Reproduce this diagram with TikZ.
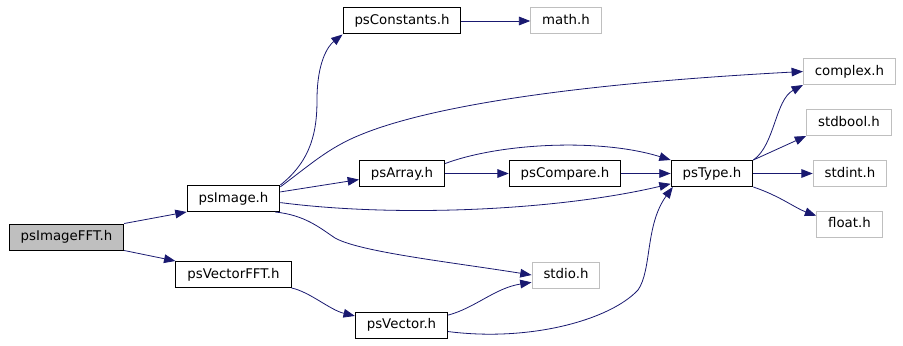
\documentclass[tikz,border=0pt]{standalone}
\usepackage{fontspec}
\setmainfont{DejaVu Sans}
\usepackage{xcolor}
\usetikzlibrary{arrows.meta}
\definecolor{edgeblue}{HTML}{191970}
\definecolor{sysgray}{HTML}{BFBFBF}

\begin{document}
\begin{tikzpicture}[
  x=0.75pt, y=-0.75pt,
  file/.style={draw, line width=0.75pt, font=\fontsize{10}{12}\selectfont, minimum height=19.5pt, inner xsep=8.6pt, inner ysep=0pt, text height=7.5pt, text depth=2pt},
  root/.style={file, fill=sysgray},
  sys/.style={file, draw=sysgray},
  dep/.style={-{Triangle[length=8.5pt, width=6.5pt]}, draw=edgeblue, line width=0.6pt}
]
\useasboundingbox (0,0) rectangle (903,346);
\node[root] (fft) at (66.5,237) {psImageFFT.h};
\node[file] (img) at (233.5,198.5) {psImage.h};
\node[file] (vfft) at (233.5,274.5) {psVectorFFT.h};
\node[file] (const) at (402,21) {psConstants.h};
\node[sys] (math) at (566,21) {math.h};
\node[file] (arr) at (402,173.5) {psArray.h};
\node[file] (cmp) at (565,173.5) {psCompare.h};
\node[file] (typ) at (712,173.5) {psType.h};
\node[sys] (cplx) at (849.5,71.5) {complex.h};
\node[sys] (bool) at (849,122.5) {stdbool.h};
\node[sys] (int) at (850,173.5) {stdint.h};
\node[sys] (flt) at (849.5,224) {float.h};
\node[sys] (stdio) at (566,275) {stdio.h};
\node[file] (vec) at (401.5,325) {psVector.h};
\draw[dep] (fft.north east) -- (img.196);
\draw[dep] (fft.south east) -- (vfft.north west);
\draw[dep] (img.north east) .. controls (312,160) and (317,130) .. (317,100)
  .. controls (317,62) and (328,46) .. (const.south west);
\draw[dep] (const.east) -- (math.west);
\draw[dep] (img.14) .. controls (310,165) and (328,148) .. (360,135)
  .. controls (420,110) and (550,85) .. (cplx.west);
\draw[dep] (img.8) -- (arr.188);
\draw[dep] (img.-5) .. controls (400,218) and (560,210) .. (typ.194);
\draw[dep] (img.-18) .. controls (305,215) and (320,228) .. (335,238)
  .. controls (360,252) and (450,262) .. (stdio.west);
\draw[dep] (vfft.south east) .. controls (310,292) and (330,310) .. (vec.169);
\draw[dep] (vec.12) .. controls (475,308) and (495,288) .. (stdio.192);
\draw[dep] (vec.-8) .. controls (530,342) and (610,320) .. (638,290)
  .. controls (652,270) and (645,225) .. (typ.199);
\draw[dep] (arr.13) .. controls (500,143) and (600,138) .. (typ.north west);
\draw[dep] (arr.east) -- (cmp.west);
\draw[dep] (cmp.east) -- (typ.west);
\draw[dep] (typ.north east) .. controls (775,145) and (775,100) .. (cplx.south west);
\draw[dep] (typ.north east) -- (bool.south west);
\draw[dep] (typ.east) -- (int.west);
\draw[dep] (typ.south east) .. controls (780,196) and (795,208) .. (flt.166);
\end{tikzpicture}
\end{document}
